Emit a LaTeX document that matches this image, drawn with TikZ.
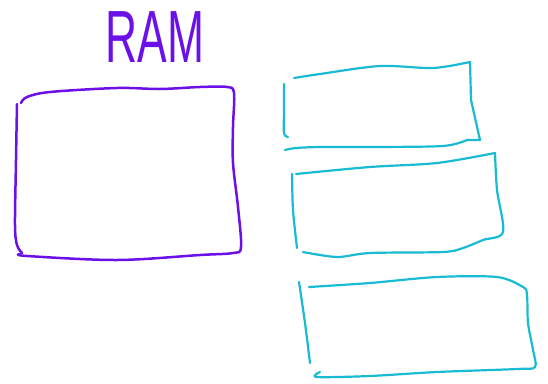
\documentclass[tikz,border=0pt]{standalone}
\usepackage{fontspec}
\setsansfont{Liberation Sans}
\definecolor{ramviolet}{RGB}{108,16,232}
\definecolor{slotcyan}{RGB}{24,186,212}
\tikzset{
  ramline/.style={draw=ramviolet, line width=2.5pt, line cap=round, line join=round},
  slotline/.style={draw=slotcyan, line width=2.2pt, line cap=round, line join=round}
}
\begin{document}
\begin{tikzpicture}[x=1pt,y=-1pt]
    \useasboundingbox (0,0) rectangle (548,383);
    % title
    \node[text=ramviolet, font=\sffamily\fontsize{74}{74}\selectfont, xscale=0.6, transform shape, inner sep=0pt] (ram) at (155,37) {RAM};
    % big box
    \draw[ramline] plot[smooth, tension=0.55] coordinates {(17,104) (16,160) (15,225) (17,245) (22,253)};
    \draw[ramline] plot[smooth, tension=0.55] coordinates {(21,103) (27,97) (50,92) (117,88) (160,89) (200,87) (227,87) (234,93) (233,127) (233,163) (238,207) (241,247) (233,253) (200,255) (117,260) (27,256) (20,254)};
    % slot 1
    \draw[slotline] plot[smooth, tension=0.5] coordinates {(284,84) (284,110) (284,133) (288,137)};
    \draw[slotline] plot[smooth, tension=0.5] coordinates {(294,78) (320,74) (380,66) (433,68) (470,62)};
    \draw[slotline] (470,62) -- (471,100) -- (480,140) -- (467,140);
    \draw[slotline] plot[smooth, tension=0.5] coordinates {(467,140) (443,146) (370,147) (320,147) (296,148) (285,150)};
    % slot 2
    \draw[slotline] plot[smooth, tension=0.5] coordinates {(292,174) (293,210) (297,248)};
    \draw[slotline] plot[smooth, tension=0.5] coordinates {(296,174) (370,167) (437,163) (495,153)};
    \draw[slotline] plot[smooth, tension=0.5] coordinates {(495,153) (497,190) (503,232) (483,240) (463,248) (443,252) (370,253) (337,257) (303,252)};
    % slot 3
    \draw[slotline] plot[smooth, tension=0.5] coordinates {(299,282) (305,323) (310,363)};
    \draw[slotline] plot[smooth, tension=0.5] coordinates {(309,287) (370,283) (437,277) (497,277) (523,287) (527,295) (528,323) (533,350) (535,367) (517,369) (437,372) (370,376) (317,377) (320,372)};
\end{tikzpicture}
\end{document}
